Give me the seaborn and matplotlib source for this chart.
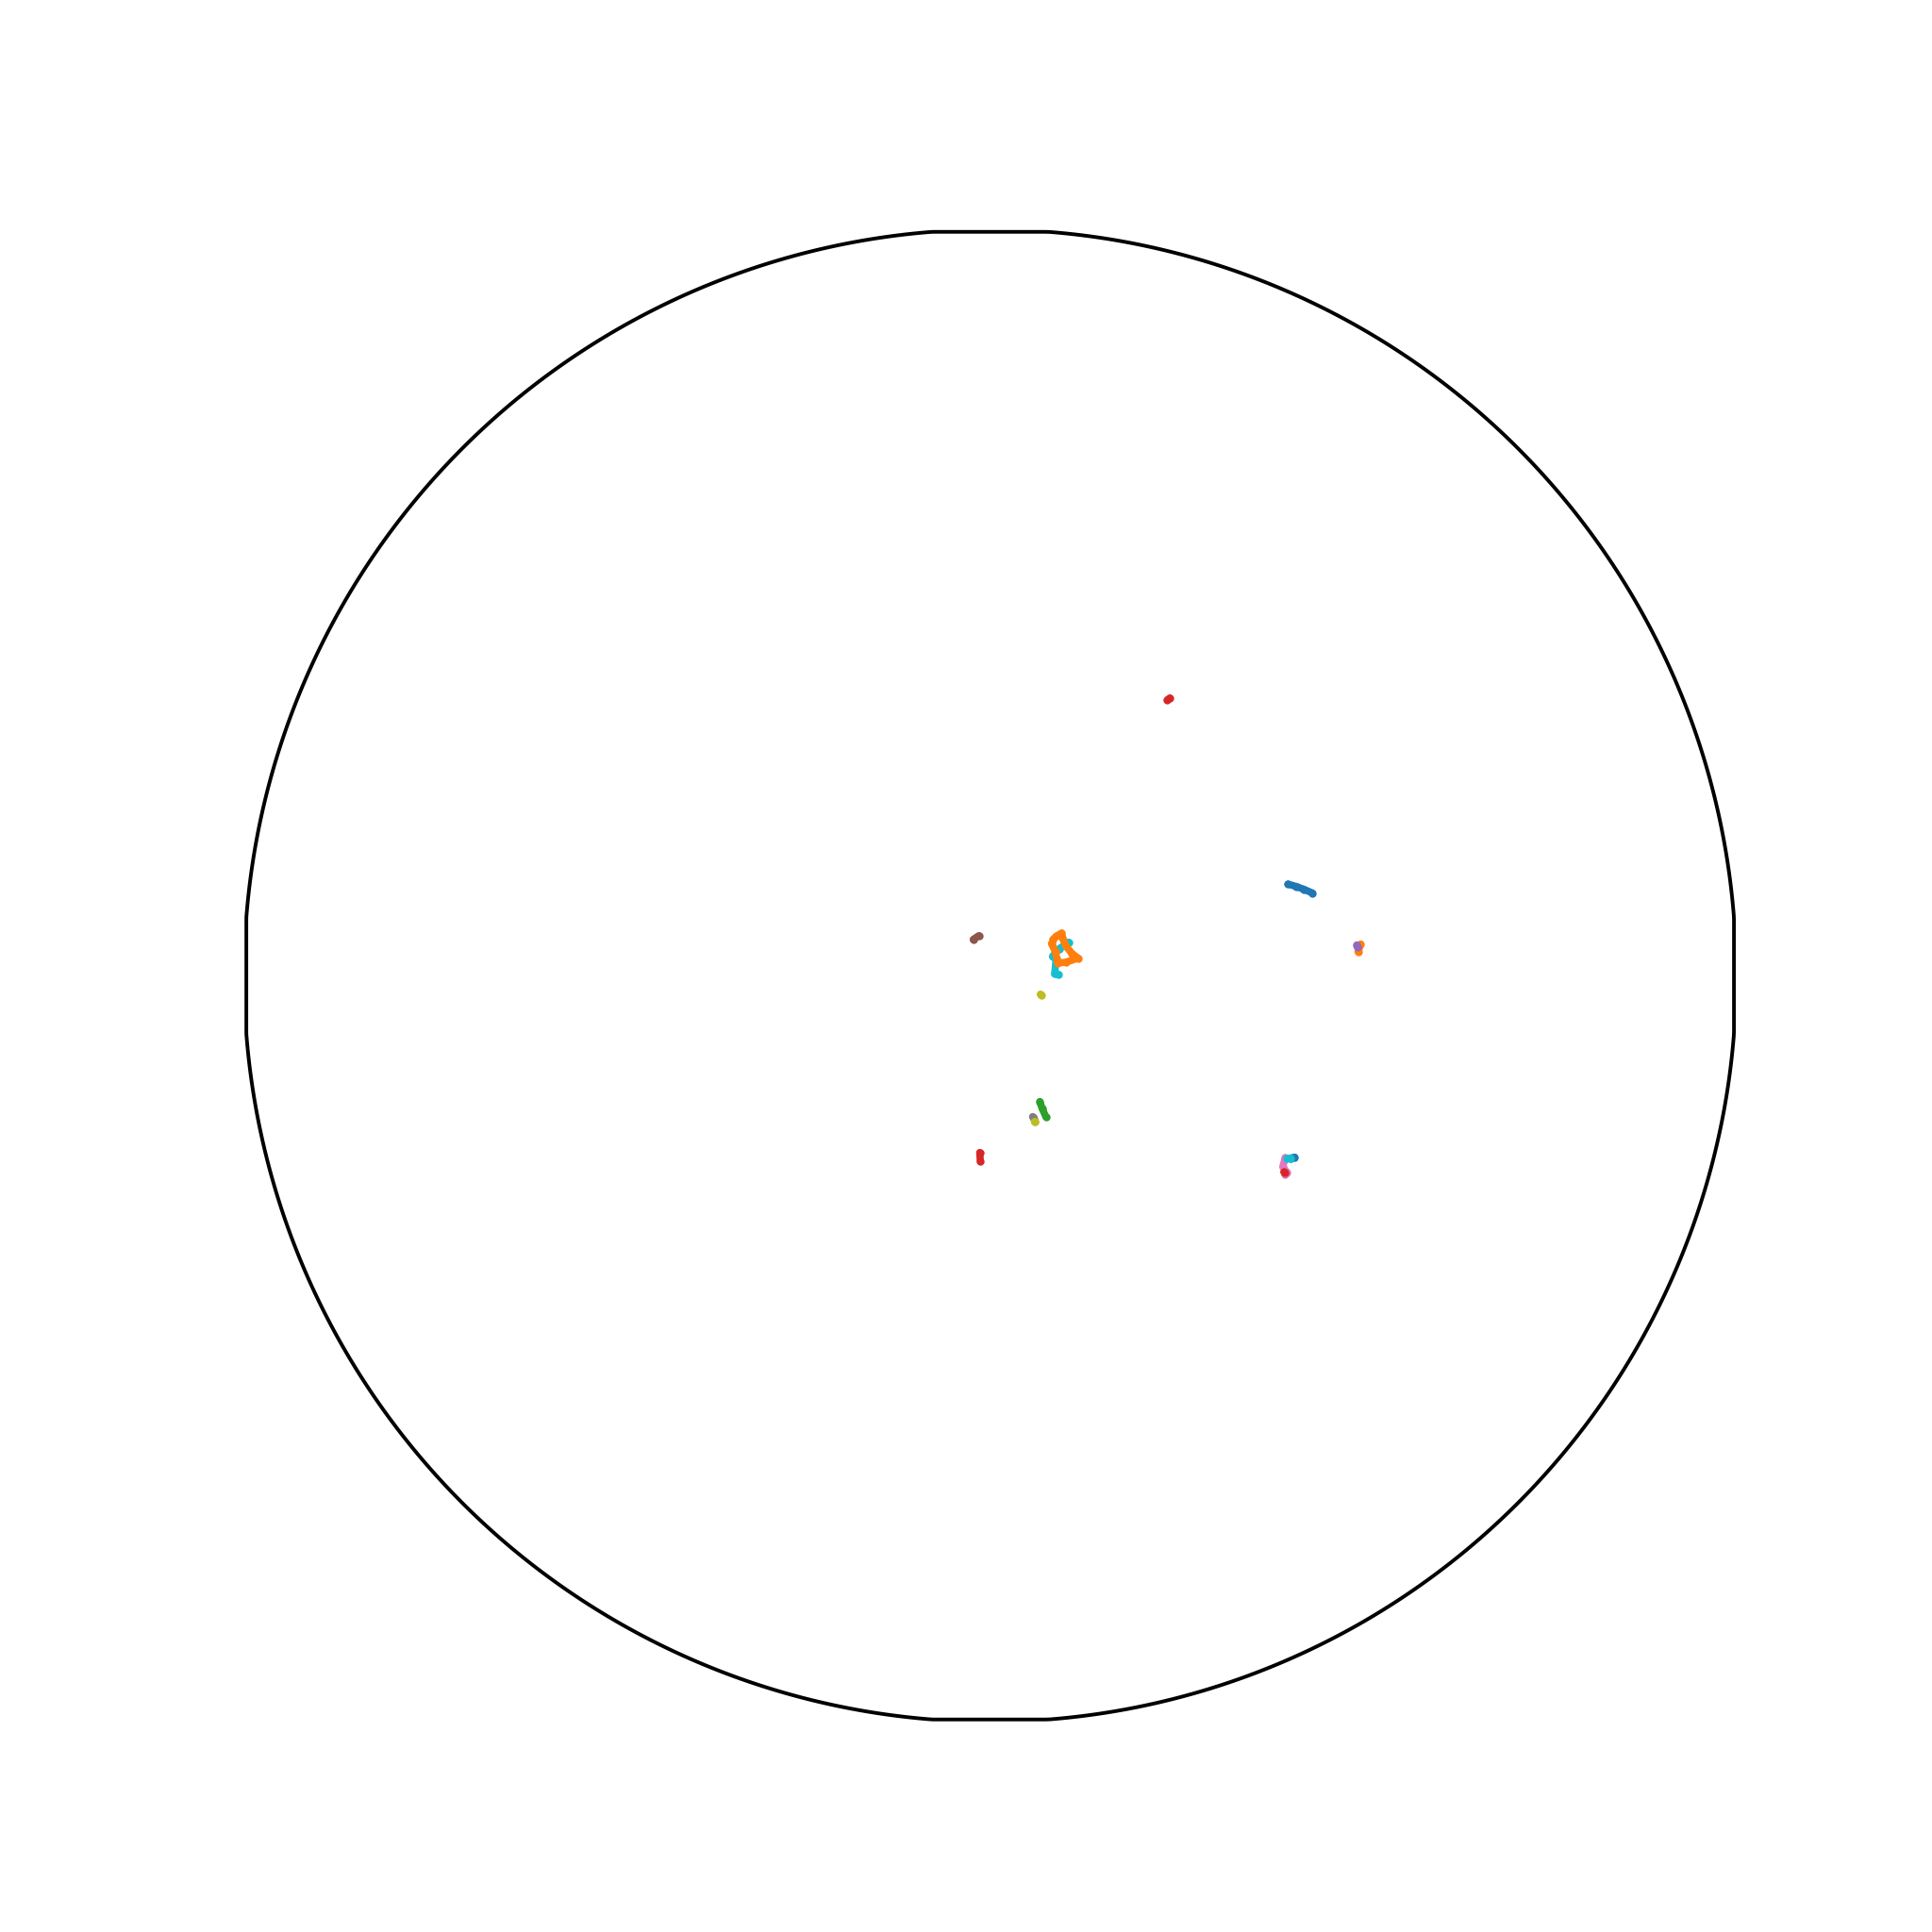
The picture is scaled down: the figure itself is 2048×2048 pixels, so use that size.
import numpy as np
import pandas as pd
import matplotlib
matplotlib.use("Agg")
import matplotlib.pyplot as plt
import seaborn as sns
from matplotlib.patches import Polygon

# Track positions (projected map coordinates, km)
track_ids = ["T01", "T02", "T03", "T04", "T05", "T06", "T07", "T08",
             "T09a", "T09b", "T10", "T11", "T12", "T13", "T14", "T15"]
track_x = [
    [1602, 1648, 1688, 1734],
    [1993, 1982, 1978],
    [267, 279, 299],
    [-56, -53],
    [1972, 1977],
    [-91, -61],
    [1587, 1574, 1587, 1597, 1587],
    [228, 236],
    [270, 274],
    [238, 242],
    [421, 370, 335, 355, 347, 369],
    [1617, 1638],
    [330, 351, 364, 406, 473, 440, 406, 389, 385, 355, 338],
    [953, 966],
    [1580, 1584],
    [1597, 1617],
]
track_y = [
    [492, 479, 464, 444],
    [170, 150, 129],
    [-677, -712, -758],
    [-951, -996],
    [165, 155],
    [195, 215],
    [-979, -1027, -1047, -1057, -1067],
    [-758, -768],
    [-100, -104],
    [-785, -787],
    [180, 144, 104, 94, 9, 6],
    [-981, -976],
    [173, 128, 68, 72, 94, 119, 161, 204, 229, 212, 195],
    [1483, 1493],
    [-1056, -1060],
    [-983, -981],
]
track_color = ["#1f77b4", "#ff7f0e", "#2ca02c", "#d62728", "#9467bd",
               "#8c564b", "#e377c2", "#7f7f7f", "#bcbd22", "#bcbd22",
               "#17becf", "#1f77b4", "#ff7f0e", "#d62728", "#d62728",
               "#17becf"]

rows = []
for tid, xs, ys in zip(track_ids, track_x, track_y):
    for i, (x, y) in enumerate(zip(xs, ys)):
        rows.append({"track": tid, "step": i, "x": x, "y": y})
df = pd.DataFrame(rows)
palette = dict(zip(track_ids, track_color))

sns.set_style("white")
fig = plt.figure(figsize=(20.48, 20.48), dpi=100)
ax = fig.add_subplot(111)

sns.lineplot(data=df, x="x", y="y", hue="track", units="track",
             estimator=None, sort=False, palette=palette, legend=False,
             linewidth=5.5, marker="o", markersize=6, markeredgewidth=0,
             ax=ax)

R = 4000
ax.set_xlim(-R, R)
ax.set_ylim(-R, R)
ax.set_aspect("equal")

# circular map boundary, slightly larger than the square frame and cut by it
theta = np.linspace(0, 2 * np.pi, 1000)
Rb = R * 791.4 / 789
bx = np.clip(Rb * np.cos(theta), -R, R)
by = np.clip(Rb * np.sin(theta), -R, R)
ax.add_patch(Polygon(np.column_stack([bx, by]), closed=True, fill=False,
                     edgecolor="black", linewidth=2.8, clip_on=False,
                     zorder=5))
ax.set_axis_off()
ax.set_xlabel("")
ax.set_ylabel("")

fig.savefig("out.png", dpi=100, facecolor="white")
